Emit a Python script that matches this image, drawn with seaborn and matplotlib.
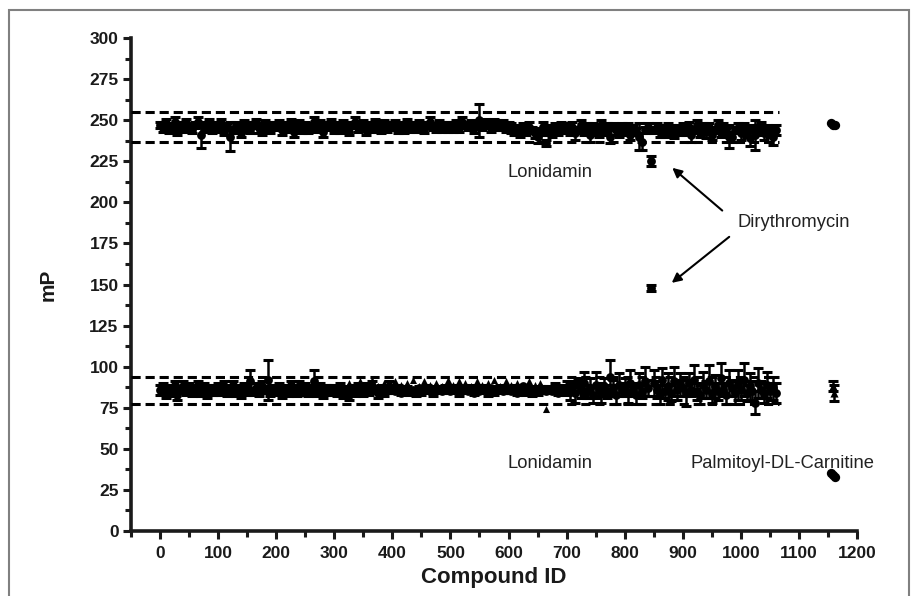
import numpy as np
import matplotlib.pyplot as plt
import seaborn as sns
from matplotlib.patches import Rectangle
from matplotlib.ticker import MultipleLocator

# Compound IDs (sampled every 5th compound)
compound_id = np.arange(0, 1065, 5)

# Upper assay band (mP, mean and SD)
upper_mp = [
    247, 245, 248, 244, 246, 249, 243, 247, 245, 248, 246, 244, 247, 249, 241, 245, 246, 248, 244, 247,
    245, 248, 243, 246, 240, 244, 247, 245, 242, 248, 246, 244, 247, 249, 245, 243, 248, 246, 244, 247,
    246, 248, 244, 247, 245, 249, 243, 246, 248, 245, 247, 244, 246, 249, 245, 248, 243, 247, 246, 249,
    245, 247, 244, 248, 246, 243, 247, 249, 245, 246, 248, 244, 247, 245, 249, 246, 244, 248, 246, 247,
    246, 248, 245, 247, 244, 249, 246, 247, 245, 248, 246, 244, 247, 249, 246, 245, 248, 246, 247, 245,
    247, 246, 248, 245, 249, 247, 246, 248, 245, 247, 250, 246, 248, 247, 245, 249, 247, 246, 248, 246,
    247, 245, 243, 244, 242, 245, 243, 246, 244, 242, 240, 243, 246, 236, 244, 242, 245, 243, 246, 244,
    245, 243, 246, 242, 244, 247, 243, 245, 241, 246, 244, 242, 247, 243, 245, 240, 246, 244, 242, 245,
    243, 246, 241, 245, 243, 240, 237, 244, 246, 225, 244, 246, 243, 245, 242, 246, 244, 241, 245, 243,
    245, 243, 246, 241, 244, 247, 242, 245, 243, 246, 241, 244, 247, 242, 245, 243, 240, 240, 244, 245,
    242, 246, 243, 239, 245, 241, 244, 247, 242, 245, 243, 240, 244,
]
upper_sd = [
    2, 2, 3, 2, 2, 3, 2, 2, 2, 3, 2, 2, 2, 3, 8, 2, 2, 3, 2, 2,
    2, 3, 2, 2, 9, 2, 2, 3, 2, 2, 3, 2, 2, 2, 3, 2, 2, 3, 2, 2,
    2, 2, 3, 2, 2, 2, 3, 2, 2, 3, 2, 2, 2, 3, 2, 2, 3, 2, 2, 2,
    3, 2, 2, 2, 3, 2, 2, 3, 2, 2, 2, 3, 2, 2, 2, 3, 2, 2, 3, 2,
    2, 2, 3, 2, 2, 2, 3, 2, 2, 2, 3, 2, 2, 3, 2, 2, 2, 3, 2, 2,
    2, 3, 2, 2, 3, 2, 2, 2, 3, 2, 10, 2, 3, 2, 2, 2, 3, 2, 2, 3,
    2, 3, 2, 3, 2, 3, 2, 3, 2, 3, 4, 2, 3, 2, 3, 2, 3, 2, 3, 2,
    3, 2, 3, 4, 2, 3, 2, 3, 4, 2, 3, 2, 3, 2, 3, 4, 2, 3, 2, 3,
    2, 2, 3, 2, 2, 8, 5, 2, 2, 3, 2, 2, 3, 2, 2, 2, 3, 2, 2, 2,
    3, 2, 3, 4, 2, 3, 2, 3, 4, 2, 3, 2, 3, 2, 3, 2, 7, 3, 2, 3,
    4, 2, 3, 5, 2, 9, 3, 2, 4, 2, 3, 5, 3,
]

# Lower assay band (mP, mean and SD)
lower_mp = [
    86, 88, 84, 87, 85, 89, 83, 86, 88, 85, 87, 84, 86, 89, 85, 88, 84, 87, 86, 85,
    87, 85, 88, 84, 86, 89, 85, 87, 84, 88, 86, 91, 85, 87, 84, 88, 86, 92, 85, 87,
    86, 88, 84, 87, 85, 89, 86, 84, 88, 85, 87, 84, 86, 91, 85, 88, 84, 87, 86, 85,
    87, 85, 88, 84, 86, 83, 87, 85, 88, 86, 84, 87, 85, 88, 86, 84, 87, 85, 86, 88,
    86, 85, 87, 84, 86, 87, 85, 86, 84, 87, 85, 86, 87, 85, 84, 87, 86, 85, 87, 86,
    85, 87, 86, 84, 87, 86, 85, 87, 84, 86, 85, 87, 86, 84, 87, 85, 86, 87, 85, 86,
    86, 85, 87, 84, 86, 88, 85, 87, 84, 86, 85, 87, 86, 85, 86, 85, 88, 84, 87, 86,
    87, 85, 88, 84, 89, 86, 90, 85, 87, 83, 89, 86, 84, 88, 85, 94, 87, 83, 89, 86,
    88, 84, 90, 86, 83, 89, 85, 91, 87, 148, 90, 86, 83, 92, 85, 88, 84, 91, 86, 89,
    87, 84, 90, 86, 92, 85, 83, 89, 86, 91, 84, 88, 85, 93, 86, 83, 90, 87, 84, 89,
    86, 92, 84, 88, 85, 78, 90, 86, 84, 89, 85, 87, 84,
]
lower_sd = [
    3, 2, 3, 2, 3, 2, 3, 2, 3, 2, 3, 2, 3, 2, 3, 2, 3, 2, 3, 2,
    3, 2, 3, 2, 3, 2, 3, 2, 3, 2, 3, 7, 2, 3, 2, 3, 2, 12, 3, 2,
    3, 2, 3, 2, 3, 2, 3, 2, 3, 2, 3, 2, 3, 7, 3, 2, 3, 2, 3, 2,
    2, 3, 2, 3, 2, 3, 2, 3, 2, 3, 2, 3, 2, 3, 2, 3, 2, 3, 2, 3,
    2, 1, 2, 1, 2, 1, 2, 1, 2, 1, 2, 1, 2, 1, 2, 1, 2, 1, 2, 1,
    1, 2, 1, 2, 1, 2, 1, 2, 1, 2, 1, 2, 1, 2, 1, 2, 1, 2, 1, 2,
    2, 1, 2, 1, 2, 1, 2, 1, 2, 1, 2, 1, 2, 1, 2, 1, 2, 1, 2, 1,
    4, 5, 3, 6, 4, 5, 7, 4, 6, 5, 8, 4, 6, 5, 4, 10, 5, 6, 7, 4,
    5, 6, 8, 4, 6, 7, 4, 9, 5, 2, 8, 5, 6, 7, 4, 8, 5, 9, 6, 7,
    5, 8, 6, 4, 9, 5, 6, 8, 5, 10, 6, 7, 5, 9, 4, 6, 8, 5, 7, 9,
    6, 10, 5, 8, 6, 7, 9, 5, 6, 8, 5, 7, 6,
]

# Second series in the lower band (triangles)
tri_id = np.arange(325, 675, 10)
tri_mp = [
    90, 88, 91, 89, 92, 88, 90, 87, 91, 89, 90, 92, 88, 91, 89, 90, 88, 92,
    89, 91, 90, 88, 91, 89, 90, 92, 88, 91, 89, 90, 87, 91, 89, 90, 74,
]

# Controls at the right end
ctrl_circle_id = [1155, 1158, 1162, 1155, 1158, 1162]
ctrl_circle_mp = [248, 247, 247, 35, 34, 33]
ctrl_tri_id = [1158, 1160]
ctrl_tri_mp = [88, 84]
ctrl_tri_sd = [3, 5]

sns.set_style("ticks")
plt.rcParams['font.family'] = ['Liberation Sans', 'DejaVu Sans']

fig = plt.figure(figsize=(9.15, 5.96), dpi=100)
ax = fig.add_axes([0.1432, 0.1091, 0.7934, 0.8271])

# Error bars
err_kw = dict(fmt='none', ecolor='black', elinewidth=1.8, capsize=3.5, capthick=2.2, zorder=2)
ax.errorbar(compound_id, upper_mp, yerr=upper_sd, **err_kw)
ax.errorbar(compound_id, lower_mp, yerr=lower_sd, **err_kw)
ax.errorbar(ctrl_tri_id, ctrl_tri_mp, yerr=ctrl_tri_sd, **err_kw)

# Points
sns.scatterplot(x=compound_id, y=upper_mp, marker='o', s=40, color='black', linewidth=0, ax=ax, zorder=3)
sns.scatterplot(x=compound_id, y=lower_mp, marker='o', s=40, color='black', linewidth=0, ax=ax, zorder=3)
sns.scatterplot(x=tri_id, y=tri_mp, marker='^', s=26, color='black', linewidth=0, ax=ax, zorder=3)
sns.scatterplot(x=ctrl_circle_id, y=ctrl_circle_mp, marker='o', s=45, color='black', linewidth=0, ax=ax, zorder=3)
sns.scatterplot(x=ctrl_tri_id, y=ctrl_tri_mp, marker='^', s=34, color='black', linewidth=0, ax=ax, zorder=3)

# Threshold lines (mean +/- 3 SD)
for level in [255, 237, 94, 77]:
    ax.hlines(level, -50, 1065, colors='black', linewidth=2.2, linestyles=(0, (3, 1.6)), zorder=4)

# Annotations
txt = dict(fontsize=13.2, color='#222222')
ax.text(672, 218, 'Lonidamin', ha='center', va='center', **txt)
ax.text(672, 41, 'Lonidamin', ha='center', va='center', **txt)
ax.text(1071, 41, 'Palmitoyl-DL-Carnitine', ha='center', va='center', **txt)
ax.text(995, 188, 'Dirythromycin', ha='left', va='center', **txt)
arrow = dict(arrowstyle='-|>', color='black', lw=1.5, mutation_scale=14, shrinkA=0, shrinkB=0)
ax.annotate('', xy=(882, 221), xytext=(968, 195), arrowprops=arrow)
ax.annotate('', xy=(881, 151), xytext=(980, 179), arrowprops=arrow)

# Axes
ax.set_xlim(-50, 1200)
ax.set_ylim(0, 300)
ax.set_xticks(np.arange(0, 1201, 100))
ax.set_yticks(np.arange(0, 301, 25))
ax.xaxis.set_minor_locator(MultipleLocator(50))
ax.yaxis.set_minor_locator(MultipleLocator(12.5))
ax.tick_params(which='major', direction='out', length=6, width=2.2, pad=3, color='#1a1a1a')
ax.tick_params(which='minor', direction='out', length=4, width=2.2, color='#1a1a1a')
ax.tick_params(axis='y', labelsize=12.5)
ax.tick_params(axis='x', labelsize=12.5, pad=5)
for lab in ax.get_xticklabels() + ax.get_yticklabels():
    lab.set_fontweight('bold')
    lab.set_color('#1a1a1a')
sns.despine(ax=ax)
for side in ['left', 'bottom']:
    ax.spines[side].set_linewidth(2.6)
    ax.spines[side].set_color('#1a1a1a')
ax.set_xlabel('Compound ID', fontsize=16, fontweight='bold', labelpad=4, color='#1a1a1a')
ax.set_ylabel('mP', fontsize=15, fontweight='bold', labelpad=23, color='#1a1a1a')

# Frame around the figure
fig.add_artist(Rectangle((9 / 915, -0.05), 900 / 915, 1.05 - 10 / 596, transform=fig.transFigure,
                         fill=False, edgecolor='#808080', linewidth=1.5))

fig.savefig('out.png', dpi=100)
